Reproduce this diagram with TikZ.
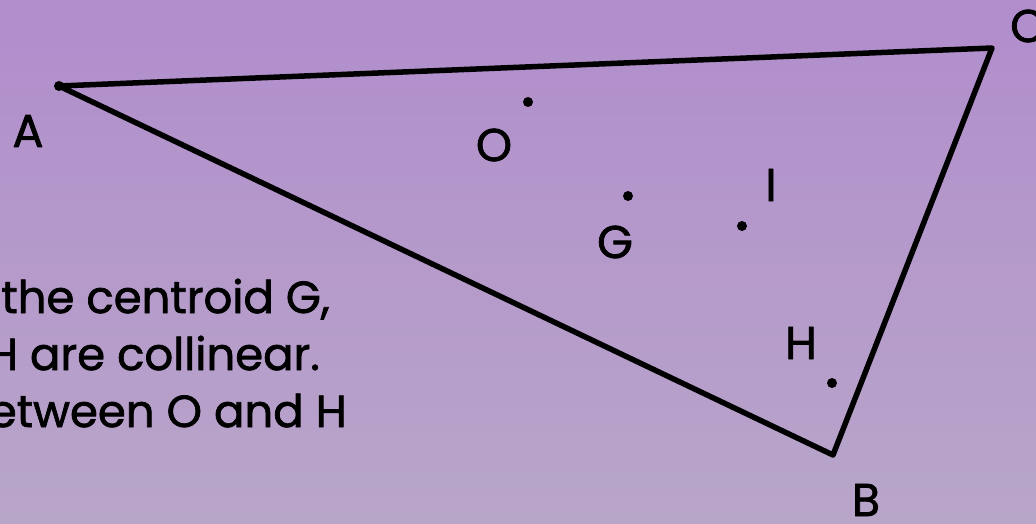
\documentclass[tikz,border=0pt]{standalone}
\usepackage{fontspec}
\setmainfont{Poppins}[FakeBold=1.6]
\usetikzlibrary{positioning}
\definecolor{bgtop}{HTML}{B18DCC}
\definecolor{bgbot}{HTML}{B8A6C9}

\begin{document}
\begin{tikzpicture}[
    x=1pt, y=-1pt,
    edge/.style={line width=5.5pt, line join=round, line cap=round},
    centre/.style={circle, fill=black, inner sep=0pt, minimum size=10pt},
    label/.style={font=\fontsize{46}{46}\selectfont, inner sep=0pt},
    note/.style={font=\fontsize{45}{57}\selectfont, inner sep=0pt, anchor=base east},
]
    \useasboundingbox (0,0) rectangle (1036,524);
    \clip (0,0) rectangle (1036,524);
    \shade[top color=bgtop, bottom color=bgbot] (0,0) rectangle (1036,524);

    % Vertices
    \coordinate (A) at (59,86);
    \coordinate (C) at (992,48);
    \coordinate (B) at (833,455);
    \draw[edge] (A) -- (C) -- (B) -- cycle;
    \fill (A) circle (5pt);

    % Centres
    \node[centre] (O) at (528,102) {};
    \node[centre] (G) at (628,196) {};
    \node[centre] (I) at (742,226) {};
    \node[centre] (H) at (832,383) {};

    % Labels
    \node[label] (lblA) at (28,131) {A};
    \node[label, anchor=west] (lblC) at (1010,26) {C};
    \node[label] (lblB) at (866,500) {B};
    \node[label] (lblO) at (494,145) {O};
    \node[label] (lblG) at (615,242) {G};
    \node[label] (lblI) at (771,185) {I};
    \node[label] (lblH) at (801,343) {H};

    % Text
    \node[note] (line1) at (330,313) {the centroid G,};
    \node[note] (line2) at (320,370) {H are collinear.};
    \node[note] (line3) at (347,427) {etween O and H};
\end{tikzpicture}
\end{document}
